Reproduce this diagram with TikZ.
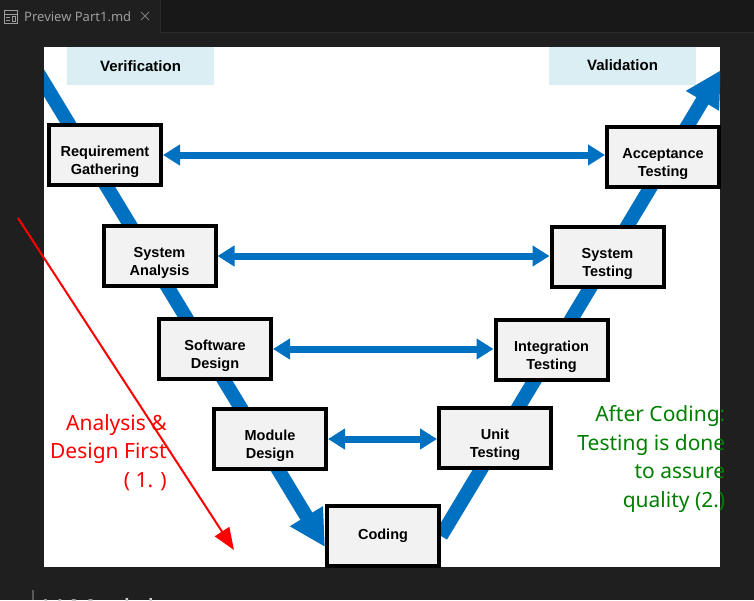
\documentclass[tikz,border=0pt]{standalone}
\usepackage{fontspec}
\usetikzlibrary{arrows.meta,backgrounds}
\newfontfamily\boxfont{Liberation Sans}
\newfontfamily\notefont{Noto Sans}
\newcommand\lowtext{\rule{0pt}{24pt}}
\definecolor{vblue}{HTML}{0070C0}
\definecolor{tagblue}{HTML}{DAEEF3}
\definecolor{boxgray}{HTML}{F2F2F2}
\definecolor{editorbg}{HTML}{1F1F1F}
\definecolor{tabbar}{HTML}{181818}
\definecolor{tabline}{HTML}{2B2B2B}
\definecolor{tabtext}{HTML}{9D9D9D}
\definecolor{notegreen}{HTML}{008000}
\begin{document}
\begin{tikzpicture}[x=1pt,y=-1pt,
	phase/.style={draw=black,line width=4pt,fill=boxgray,minimum width=112pt,minimum height=60pt,
		align=center,inner sep=0pt,font=\boxfont\bfseries\fontsize{14.5}{17.5}\selectfont},
	tag/.style={fill=tagblue,minimum width=147pt,minimum height=38pt,inner sep=0pt,
		font=\boxfont\bfseries\fontsize{15}{18}\selectfont},
	pair/.style={{Triangle[length=17pt,width=20pt]}-{Triangle[length=17pt,width=20pt]},line width=7pt,draw=vblue},
	vline/.style={-{Triangle[length=36pt,width=36pt]},line width=14pt,draw=vblue},
	note/.style={align=right,inner sep=0pt,font=\notefont\fontsize{21}{28.8}\selectfont}]
	\useasboundingbox (0,0) rectangle (754,600);
	% editor window and white picture area
	\begin{scope}[on background layer]
		\fill[editorbg] (0,0) rectangle (754,600);
		\fill[tabbar] (160,0) rectangle (754,32);
		\draw[tabline] (160.5,0) -- (160.5,32.5) -- (754,32.5);
		\fill[white] (44,47) rectangle (720,567);
	\end{scope}
	% tab title
	\draw[tabtext,line width=1pt] (4,10) rectangle (17,23) (4,14) -- (17,14)
	(6,17) -- (10,17) (6,20) -- (10,20) (12,16.5) rectangle (15,21);
	\node[anchor=west,inner sep=0pt,text=tabtext,font=\notefont\fontsize{13}{15}\selectfont] (tabname) at (24,17) {Preview Part1.md};
	\draw[tabtext!80!black,line width=1pt] (141,12) -- (149,20) (141,20) -- (149,12);
	% heading labels
	\node[tag] (verif) at (140.5,66) {Verification};
	\node[tag] (valid) at (622.5,65.5) {Validation};
	% phases of the V
	\node[phase] (req) at (105,155) {\lowtext Requirement\\Gathering};
	\node[phase] (sysa) at (159.5,256) {\lowtext System\\Analysis};
	\node[phase] (swd) at (215,349) {\lowtext Software\\Design};
	\node[phase] (mod) at (270,439) {\lowtext Module\\Design};
	\node[phase] (cod) at (383,536) {Coding};
	\node[phase] (unit) at (495,438) {\lowtext Unit\\Testing};
	\node[phase] (integ) at (551.5,350) {\lowtext Integration\\Testing};
	\node[phase] (syst) at (607.5,257) {\lowtext System\\Testing};
	\node[phase] (acc) at (663,157) {\lowtext Acceptance\\Testing};
	% the V itself, behind the boxes
	\coordinate (vstart) at (35,68);
	\coordinate (vdown) at (325,547);
	\coordinate (vtop) at (721,70);
	\begin{scope}[on background layer]
		\clip (44,47) rectangle (720,567);
		\draw[vline] (vstart) -- (vdown);
		\draw[vline] (cod.east) -- (vtop);
	\end{scope}
	% verification <-> validation pairs
	\draw[pair] (req.east) -- (req.east -| acc.west);
	\draw[pair] (sysa.east) -- (sysa.east -| syst.west);
	\draw[pair] (swd.east) -- (swd.east -| integ.west);
	\draw[pair] (mod.east) -- (mod.east -| unit.west);
	% notes
	\coordinate (rstart) at (18,218);
	\coordinate (rend) at (234,550);
	\draw[red,line width=2pt,-{Triangle[length=22pt,width=17pt]}] (rstart) -- (rend);
	\node[note,text=red,anchor=north east] (first) at (167,414) {Analysis \&\\Design First\\( 1. )};
	\node[note,text=notegreen,anchor=north east] (second) at (725.5,405) {After Coding:\\Testing is done\\to assure\\quality (2.)};
	% cut-off page heading
	\draw[gray!70!black,line width=2pt] (33,590) -- (33,600);
	\node[anchor=north west,inner sep=0pt,text=black!20,font=\notefont\bfseries\fontsize{29}{33}\selectfont] (heading) at (44,598) {V Model};
\end{tikzpicture}
\end{document}
